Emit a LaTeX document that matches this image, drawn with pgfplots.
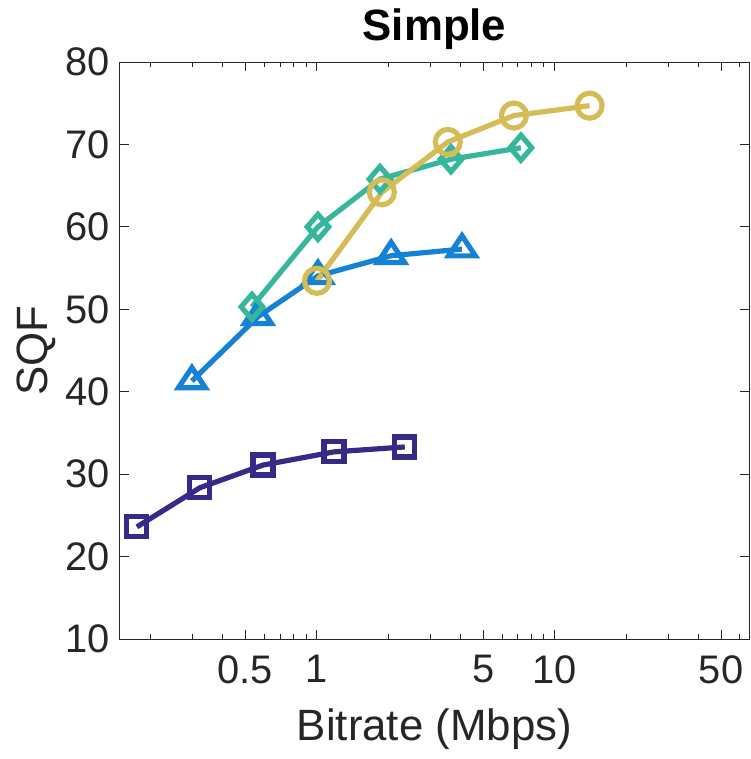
\documentclass[border=0pt]{standalone}
\usepackage{pgfplots}
\pgfplotsset{compat=1.18}
\usepackage{fontspec}
\setmainfont{Liberation Sans}
\definecolor{c1}{RGB}{53,42,135}
\definecolor{c2}{RGB}{22,130,212}
\definecolor{c3}{RGB}{54,183,156}
\definecolor{c4}{RGB}{214,188,86}
\definecolor{axc}{RGB}{38,38,38}
\begin{document}
\begin{tikzpicture}
\begin{axis}[
  scale only axis, width=629bp, height=577bp,
  xmode=log, xmin=0.1486, xmax=65.5, ymin=10, ymax=80,
  xtick={0.5,1,5,10,50}, xticklabels={0.5,1,5,10,50},
  minor xtick={0.2,0.3,0.4,0.6,0.7,0.8,0.9,2,3,4,6,7,8,9,20,30,40,60},
  ytick={10,20,30,40,50,60,70,80},
  tick align=inside, major tick length=9bp, minor tick length=5bp,
  axis line style={draw=axc, line width=1bp},
  every tick/.style={axc, line width=1bp},
  /pgf/number format/assume math mode=true,
  tick label style={font=\fontsize{40}{46}\selectfont, text=axc},
  xticklabel style={yshift=-13bp},
  yticklabel style={xshift=-7bp},
  xlabel={Bitrate (Mbps)}, ylabel={SQF},
  xlabel style={font=\fontsize{44}{52}\selectfont, text=axc, at={(axis description cs:0.5,0)}, anchor=base, yshift=-101bp},
  ylabel style={font=\fontsize{44}{52}\selectfont, text=axc, at={(axis description cs:-0.1145,0.5)}, anchor=base},
  title={Simple},
  title style={font=\fontsize{44}{52}\selectfont\bfseries, at={(axis description cs:0.5,1)}, anchor=base, yshift=16bp},
]
\addplot[c1, line width=5.2bp, mark=square, mark size=10bp, mark options={solid, fill=white}] coordinates {
 (0.175,23.6) (0.322,28.35) (0.593,31.1) (1.18,32.7) (2.34,33.3)};
\addplot[c2, line width=5.2bp, mark=triangle, mark size=15.5bp, mark options={solid, fill=white, yscale=0.87}] coordinates {
 (0.298,41.3) (0.565,49.1) (1.01,54.05) (2.05,56.5) (4.07,57.3)};
\addplot[c3, line width=5.2bp, mark=diamond, mark size=12.5bp, mark options={solid, fill=white, xscale=1.15}] coordinates {
 (0.533,50.3) (1.01,60.0) (1.84,65.8) (3.66,68.2) (7.2,69.6)};
\addplot[c4, line width=5.2bp, mark=o, mark size=12.5bp, mark options={solid, fill=white}] coordinates {
 (1.0,53.45) (1.875,64.2) (3.55,70.3) (6.73,73.5) (14.0,74.7)};
\end{axis}
\pgfresetboundingbox
\path[use as bounding box] (-120bp,-120bp) rectangle (631bp,639bp);
\end{tikzpicture}
\end{document}
